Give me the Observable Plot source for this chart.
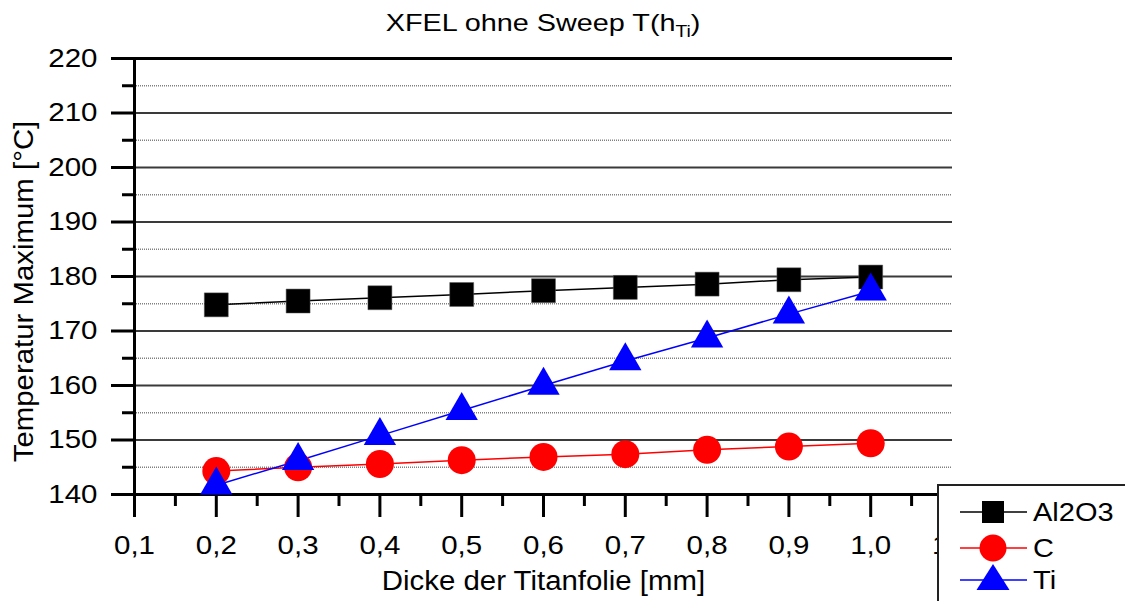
<!DOCTYPE html>
<html><head><meta charset="utf-8">
<script src="https://cdn.jsdelivr.net/npm/d3@7"></script>
<script src="https://cdn.jsdelivr.net/npm/@observablehq/plot@0.6"></script>
<style>
body{margin:0;background:#fff;font-family:"Liberation Sans",Arial,sans-serif;}
#wrap{position:relative;width:1125px;height:601px;overflow:hidden;background:#fff;}
#title{height:45px;line-height:45px;font-size:24px;text-align:center;padding-left:134px;padding-right:173px;box-sizing:border-box;width:1125px;color:#000;}
#title span{display:inline-block;transform:scaleX(1.2);transform-origin:center;}
#title sub{font-size:16px;vertical-align:-6px;line-height:0;}
#legend{position:absolute;left:937px;top:484px;width:200px;height:130px;border:2px solid #222;background:#fff;box-sizing:border-box;}
#legend svg{display:block;}
#chart g[aria-label="x-axis tick label"],
#chart g[aria-label="y-axis tick label"]{font-size:25px;}
#chart g[aria-label="text"]{font-size:28px;}
</style></head>
<body>
<div id="wrap">
  <div id="title"><span>XFEL ohne Sweep T(h<sub>Ti</sub>)</span></div>
  <div id="chart"></div>
  <div id="legend"></div>
</div>
<script>
// ---- data ----
const thickness = [0.2, 0.3, 0.4, 0.5, 0.6, 0.7, 0.8, 0.9, 1.0];
const al2o3 = [174.8, 175.5, 176.1, 176.7, 177.4, 178.0, 178.6, 179.4, 179.9];
const carbon = [144.3, 145.0, 145.6, 146.3, 146.9, 147.4, 148.2, 148.8, 149.4];
const titan = [141.7, 146.2, 150.8, 155.4, 160.0, 164.5, 168.7, 173.1, 177.3];
const seriesNames = ["Al2O3", "C", "Ti"];
const seriesColors = ["#000000", "#ff0000", "#0000ff"];
const xMajorTicks = [0.1, 0.2, 0.3, 0.4, 0.5, 0.6, 0.7, 0.8, 0.9, 1.0, 1.1];
const xMinorTicks = [0.15, 0.25, 0.35, 0.45, 0.55, 0.65, 0.75, 0.85, 0.95, 1.05];
const yMajorTicks = [140, 150, 160, 170, 180, 190, 200, 210, 220];
const yMinorTicks = [145, 155, 165, 175, 185, 195, 205, 215];
const yGridMajor = [150, 160, 170, 180, 190, 200, 210];
const xLabel = "Dicke der Titanfolie [mm]";
const yLabel = "Temperatur Maximum [°C]";

const rows = [];
[al2o3, carbon, titan].forEach((vals, si) => {
  vals.forEach((v, i) => rows.push({series: seriesNames[si], x: thickness[i], y: v}));
});
const bySeries = name => rows.filter(d => d.series === name);
const comma = d => d.toFixed(1).replace(".", ",");

const chart = Plot.plot({
  width: 1125,
  height: 556,
  marginTop: 13,
  marginBottom: 107,
  marginLeft: 134,
  marginRight: 173,
  style: {fontFamily: "'Liberation Sans', Arial, sans-serif", color: "#000", background: "#fff", overflow: "visible"},
  x: {domain: [0.1, 1.1]},
  y: {domain: [140, 220]},
  marks: [
    Plot.ruleY(yMinorTicks, {stroke: "#808080", strokeWidth: 1.5, strokeDasharray: "1,1"}),
    Plot.ruleY(yGridMajor, {stroke: "#3a3a3a", strokeWidth: 2}),
    Plot.ruleY([220], {stroke: "#000", strokeWidth: 3}),
    Plot.ruleY([140], {stroke: "#000", strokeWidth: 3}),
    Plot.ruleX([0.1], {stroke: "#000", strokeWidth: 3}),
    Plot.axisX({ticks: xMajorTicks, tickSize: 23, tickPadding: 19, tickFormat: comma, strokeWidth: 3, fontSize: 25, label: null, fill: "#000", stroke: "#000"}),
    Plot.axisX({ticks: xMinorTicks, tickSize: 12, tickFormat: () => "", strokeWidth: 3, label: null, stroke: "#000"}),
    Plot.axisY({ticks: yMajorTicks, tickSize: 23, tickPadding: 14, tickFormat: d => String(d), strokeWidth: 3, fontSize: 25, label: null, fill: "#000", stroke: "#000"}),
    Plot.axisY({ticks: yMinorTicks, tickSize: 12, tickFormat: () => "", strokeWidth: 3, label: null, stroke: "#000"}),
    Plot.line(bySeries("Al2O3"), {x: "x", y: "y", stroke: seriesColors[0], strokeWidth: 1.5}),
    Plot.line(bySeries("C"), {x: "x", y: "y", stroke: seriesColors[1], strokeWidth: 1.5}),
    Plot.line(bySeries("Ti"), {x: "x", y: "y", stroke: seriesColors[2], strokeWidth: 1.5}),
    Plot.dot(bySeries("Al2O3"), {x: "x", y: "y", symbol: "square", r: 13.5, fill: seriesColors[0], stroke: "#555", strokeWidth: 0.5}),
    Plot.dot(bySeries("C"), {x: "x", y: "y", symbol: "circle", r: 14, fill: seriesColors[1]}),
    Plot.dot(bySeries("Ti"), {x: "x", y: "y", symbol: "triangle", r: 12, fill: seriesColors[2]}),
    Plot.text([xLabel], {frameAnchor: "bottom", dy: 87, lineAnchor: "middle", textAnchor: "middle", fontSize: 28, fill: "#000"}),
    Plot.text([yLabel], {frameAnchor: "left", dx: -110, dy: 15, rotate: -90, lineAnchor: "middle", textAnchor: "middle", fontSize: 28, fill: "#000"})
  ]
});
document.getElementById("chart").appendChild(chart);

// stretch text horizontally (along its baseline) around its anchor point
function stretch(root, sel, k) {
  root.querySelectorAll(sel).forEach(t => {
    const b = t.getBBox();
    const anchor = getComputedStyle(t).textAnchor;
    const ax = anchor === "middle" ? b.x + b.width / 2 : anchor === "end" ? b.x + b.width : b.x;
    const tr = t.getAttribute("transform") || "";
    t.setAttribute("transform", `${tr} translate(${ax},0) scale(${k},1) translate(${-ax},0)`);
  });
}
stretch(chart, 'g[aria-label="x-axis tick label"] text', 1.18);
stretch(chart, 'g[aria-label="y-axis tick label"] text', 1.18);
stretch(chart, 'g[aria-label="text"] text', 1.05);

// ---- legend ----
const ns = "http://www.w3.org/2000/svg";
const lg = document.createElementNS(ns, "svg");
lg.setAttribute("width", 196);
lg.setAttribute("height", 126);
const rowY = [26, 62, 94];
seriesNames.forEach((name, i) => {
  const y = rowY[i];
  const line = document.createElementNS(ns, "line");
  line.setAttribute("x1", 21); line.setAttribute("x2", 88);
  line.setAttribute("y1", y); line.setAttribute("y2", y);
  line.setAttribute("stroke", seriesColors[i]); line.setAttribute("stroke-width", 1.5);
  lg.appendChild(line);
  let m;
  if (i === 0) {
    m = document.createElementNS(ns, "rect");
    m.setAttribute("x", 54 - 11); m.setAttribute("y", y - 11);
    m.setAttribute("width", 22); m.setAttribute("height", 22);
  } else if (i === 1) {
    m = document.createElementNS(ns, "circle");
    m.setAttribute("cx", 54); m.setAttribute("cy", y); m.setAttribute("r", 13.5);
  } else {
    m = document.createElementNS(ns, "path");
    m.setAttribute("d", `M54,${y - 16}L70.5,${y + 10}L37.5,${y + 10}Z`);
  }
  m.setAttribute("fill", seriesColors[i]);
  lg.appendChild(m);
  const t = document.createElementNS(ns, "text");
  t.setAttribute("x", 94); t.setAttribute("y", y);
  t.setAttribute("dy", "0.35em");
  t.setAttribute("font-size", 25);
  t.setAttribute("font-family", "'Liberation Sans', Arial, sans-serif");
  t.setAttribute("transform", "translate(94,0) scale(1.16,1) translate(-94,0)");
  t.textContent = name;
  lg.appendChild(t);
});
document.getElementById("legend").appendChild(lg);
</script>
</body></html>
